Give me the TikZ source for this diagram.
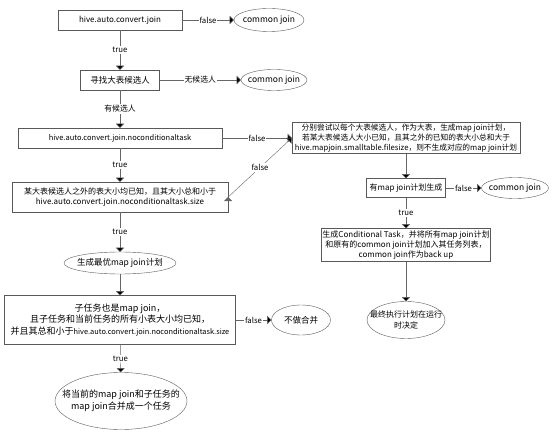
\documentclass[tikz,border=0pt]{standalone}
\usepackage{fontspec}
\setmainfont{Noto Sans CJK SC}
\usetikzlibrary{shapes,arrows,positioning}

\begin{document}
\begin{tikzpicture}[x=1pt,y=-1pt]
 \tikzset{main node/.style={rectangle, draw=black!65,
 		text centered, align=center, inner sep=1pt,
 		font=\fontsize{8}{10}\selectfont}, }
 \tikzset{end node/.style={ellipse, draw=black!65, inner sep=0pt}, }
 \tikzset{txt node/.style={align=center, inner sep=0pt,
 		font=\fontsize{8.5}{11}\selectfont}, }
 \tikzset{linea/.style={-triangle 90, draw=black!60},}
 \tikzset{lbl/.style={fill=white, inner sep=1pt,
 		font=\fontsize{7.8}{10}\selectfont},}
 \useasboundingbox (0,0) rectangle (553,435);

 % left column
 \node[main node, minimum width=124pt, minimum height=20pt] (1) at (120,20) {hive.auto.convert.join};
 \node[main node, minimum width=79pt, minimum height=20pt, font=\fontsize{8.5}{10}\selectfont] (2) at (120,80) {寻找大表候选人};
 \node[main node, minimum width=204pt, minimum height=20pt, font=\fontsize{7.5}{10}\selectfont] (3) at (120,138) {hive.auto.convert.join.noconditionaltask};
 \node[main node, minimum width=216pt, minimum height=30pt] (5) at (120,197) {某大表候选人之外的表大小均已知，且其大小总和小于\\hive.auto.convert.join.noconditionaltask.size};
 \node[end node, minimum width=112pt, minimum height=22pt,
 	label={[txt node]center:生成最优map join计划}] (6) at (120,263) {};
 \node[main node, minimum width=231pt, minimum height=49pt, font=\fontsize{9}{11.5}\selectfont] (8) at (120,320) {子任务也是map join，\\且子任务和当前任务的所有小表大小均已知，\\并且其总和小于{\fontsize{7.4}{10}\selectfont hive.auto.convert.join.noconditionaltask.size}};
 \node[end node, minimum width=132pt, minimum height=57pt,
 	label={[txt node, font=\fontsize{9}{12}\selectfont]center:将当前的map join和子任务的\\map join合并成一个任务}] (9) at (121,401) {};

 % right side
 \node[end node, minimum width=70pt, minimum height=23pt,
 	label={[txt node]center:common join}] (e1) at (269,20) {};
 \node[end node, minimum width=66pt, minimum height=21pt,
 	label={[txt node]center:common join}] (e2) at (274,80) {};
 \node[main node, minimum width=228pt, minimum height=31pt, font=\fontsize{7.7}{10}\selectfont] (4) at (406,138) {分别尝试以每个大表候选人，作为大表，生成map join计划，\\若某大表候选人大小已知，且其之外的已知的表大小总和大于\\hive.mapjoin.smalltable.filesize，则不生成对应的map join计划};
 \node[main node, minimum width=79pt, minimum height=19pt] (7) at (406,188) {有map join计划生成};
 \node[end node, minimum width=67pt, minimum height=21pt,
 	label={[txt node]center:common join}] (e3) at (515,188) {};
 \node[main node, minimum width=164pt, minimum height=33pt] (10) at (406,245) {生成Conditional Task，并将所有map join计划\\和原有的common join计划加入其任务列表，\\common join作为back up};
 \node[end node, minimum width=78pt, minimum height=37pt,
 	label={[txt node, font=\fontsize{8}{11}\selectfont]center:最终执行计划在运行\\时决定}] (11) at (406,320) {};
 \node[end node, minimum width=59pt, minimum height=30pt,
 	label={[txt node]center:不做合并}] (e6) at (301,320) {};

 \foreach \x/\y/\t in {1/e1/false,1/2/true,2/e2/无候选人,2/3/有候选人,
 	3/4/false,3/5/true,5/6/true,
 	8/e6/false,8/9/true,7/e3/false,7/10/true}
 \path[linea] (\x) edge node[lbl] {\t} (\y);
 \path[linea] (5.east) edge node[lbl] {false} (4.west);
 \foreach \x/\y in {6/8,4/7,10/11}
 \path[linea] (\x) edge (\y);
\end{tikzpicture}
\end{document}
